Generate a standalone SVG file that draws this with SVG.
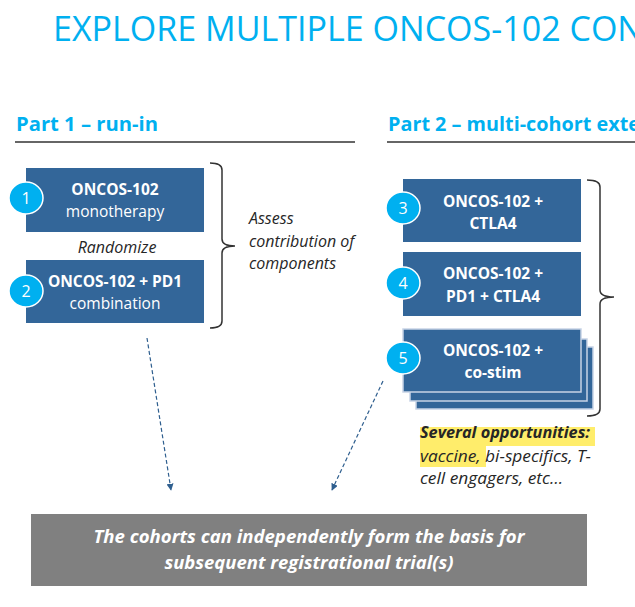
<svg xmlns="http://www.w3.org/2000/svg" width="635" height="607" viewBox="0 0 635 607">
<style>
.hdr{font-family:"Open Sans","Liberation Sans",sans-serif;fill:#00B0F0}
.box{fill:#336699}
.stk{fill:#336699;stroke:#C8D4E6;stroke-width:1.5}
.num{fill:#00B0F0;stroke:#FFFFFF;stroke-width:1.5}
.numt{font-family:"Open Sans","Liberation Sans",sans-serif;font-size:16px;fill:#FFFFFF;text-anchor:middle}
.bt{font-family:"Open Sans","Liberation Sans",sans-serif;font-size:15.5px;fill:#FFFFFF;text-anchor:middle}
.b{font-weight:bold}
.lbl{font-family:"Open Sans","Liberation Sans",sans-serif;font-size:16px;font-style:italic;fill:#262626}
.brace{fill:none;stroke:#333333;stroke-width:1.5}
.conn{fill:none;stroke:#2F5F8F;stroke-width:1.2;stroke-dasharray:4 2.5}
</style>
<defs>
<marker id="ah" viewBox="0 0 10 10" refX="9" refY="5" markerWidth="7" markerHeight="7" orient="auto" markerUnits="userSpaceOnUse">
<path d="M0,0 L10,5 L0,10 z" fill="#2F5F8F"/>
</marker>
</defs>
<rect width="635" height="607" fill="#FFFFFF"/>

<g id="title">
<text class="hdr" x="53" y="41" font-size="35" textLength="590" lengthAdjust="spacingAndGlyphs">EXPLORE MULTIPLE ONCOS-102 CON</text>
</g>

<g id="part1-header">
<text class="hdr" x="16" y="131" font-size="19" font-weight="bold" textLength="142" lengthAdjust="spacingAndGlyphs">Part 1 – run-in</text>
<line x1="15" y1="142" x2="355" y2="142" stroke="#666666" stroke-width="2"/>
</g>
<g id="part2-header">
<text class="hdr" x="388" y="131" font-size="19" font-weight="bold" textLength="252" lengthAdjust="spacingAndGlyphs">Part 2 – multi-cohort exte</text>
<line x1="387" y1="142" x2="635" y2="142" stroke="#666666" stroke-width="2"/>
</g>

<g id="connectors">
<line class="conn" x1="147" y1="338" x2="171" y2="490" marker-end="url(#ah)"/>
<line class="conn" x1="383" y1="381" x2="332" y2="490" marker-end="url(#ah)"/>
</g>

<g id="cohort1">
<rect class="box" x="26" y="168" width="178" height="64"/>
<ellipse class="num" cx="26" cy="198" rx="17" ry="16"/>
<text class="numt" x="26" y="204">1</text>
<text class="bt b" x="115" y="195">ONCOS-102</text>
<text class="bt" x="115" y="217">monotherapy</text>
</g>

<g id="randomize">
<text class="lbl" x="117" y="253" text-anchor="middle">Randomize</text>
</g>

<g id="cohort2">
<rect class="box" x="26" y="260" width="178" height="63"/>
<ellipse class="num" cx="26" cy="291" rx="17" ry="16"/>
<text class="numt" x="26" y="297">2</text>
<text class="bt b" x="115" y="287">ONCOS-102 + PD1</text>
<text class="bt" x="115" y="309">combination</text>
</g>

<g id="brace1">
<path class="brace" d="M210,163 Q222,163 222,170 V239 Q222,246 235,246 Q222,246 222,253 V321 Q222,328 210,328"/>
</g>

<g id="assess">
<text class="lbl" x="249" y="224">Assess</text>
<text class="lbl" x="249" y="247">contribution of</text>
<text class="lbl" x="249" y="269">components</text>
</g>

<g id="cohort3">
<rect class="box" x="403" y="179" width="178" height="63"/>
<ellipse class="num" cx="403" cy="208" rx="17" ry="16"/>
<text class="numt" x="403" y="214">3</text>
<text class="bt b" x="493" y="207">ONCOS-102 +</text>
<text class="bt b" x="493" y="229">CTLA4</text>
</g>

<g id="cohort4">
<rect class="box" x="403" y="252" width="178" height="64"/>
<ellipse class="num" cx="403" cy="283" rx="17" ry="16"/>
<text class="numt" x="403" y="289">4</text>
<text class="bt b" x="493" y="279">ONCOS-102 +</text>
<text class="bt b" x="493" y="302">PD1 + CTLA4</text>
</g>

<g id="cohort5">
<rect class="stk" x="416" y="347" width="177" height="62"/>
<rect class="stk" x="410" y="339" width="177" height="62"/>
<rect class="stk" x="403" y="329" width="178" height="63"/>
<ellipse class="num" cx="403" cy="358" rx="17" ry="16"/>
<text class="numt" x="403" y="364">5</text>
<text class="bt b" x="493" y="356">ONCOS-102 +</text>
<text class="bt b" x="493" y="378">co-stim</text>
</g>

<g id="brace2">
<path class="brace" d="M587,180 Q600,180 600,187 V290 Q600,297 614,297 Q600,297 600,304 V409 Q600,416 587,416"/>
</g>

<g id="opportunities">
<rect x="420" y="427" width="175" height="19" fill="#FFED6B"/>
<rect x="420" y="446" width="66" height="21" fill="#FFED6B"/>
<text class="lbl" x="420" y="438" font-weight="bold" textLength="170" lengthAdjust="spacingAndGlyphs">Several opportunities:</text>
<text class="lbl" x="420" y="462" textLength="171" lengthAdjust="spacingAndGlyphs">vaccine, bi-specifics, T-</text>
<text class="lbl" x="420" y="484" textLength="143" lengthAdjust="spacingAndGlyphs">cell engagers, etc…</text>
</g>

<g id="conclusion">
<rect x="31" y="514" width="556" height="72" fill="#808080"/>
<text x="309" y="543" text-anchor="middle" font-family="'Open Sans','Liberation Sans',sans-serif" font-size="17.5" font-weight="bold" font-style="italic" fill="#FFFFFF" textLength="431" lengthAdjust="spacingAndGlyphs">The cohorts can independently form the basis for</text>
<text x="309" y="569" text-anchor="middle" font-family="'Open Sans','Liberation Sans',sans-serif" font-size="17.5" font-weight="bold" font-style="italic" fill="#FFFFFF" textLength="289" lengthAdjust="spacingAndGlyphs">subsequent registrational trial(s)</text>
</g>
</svg>
